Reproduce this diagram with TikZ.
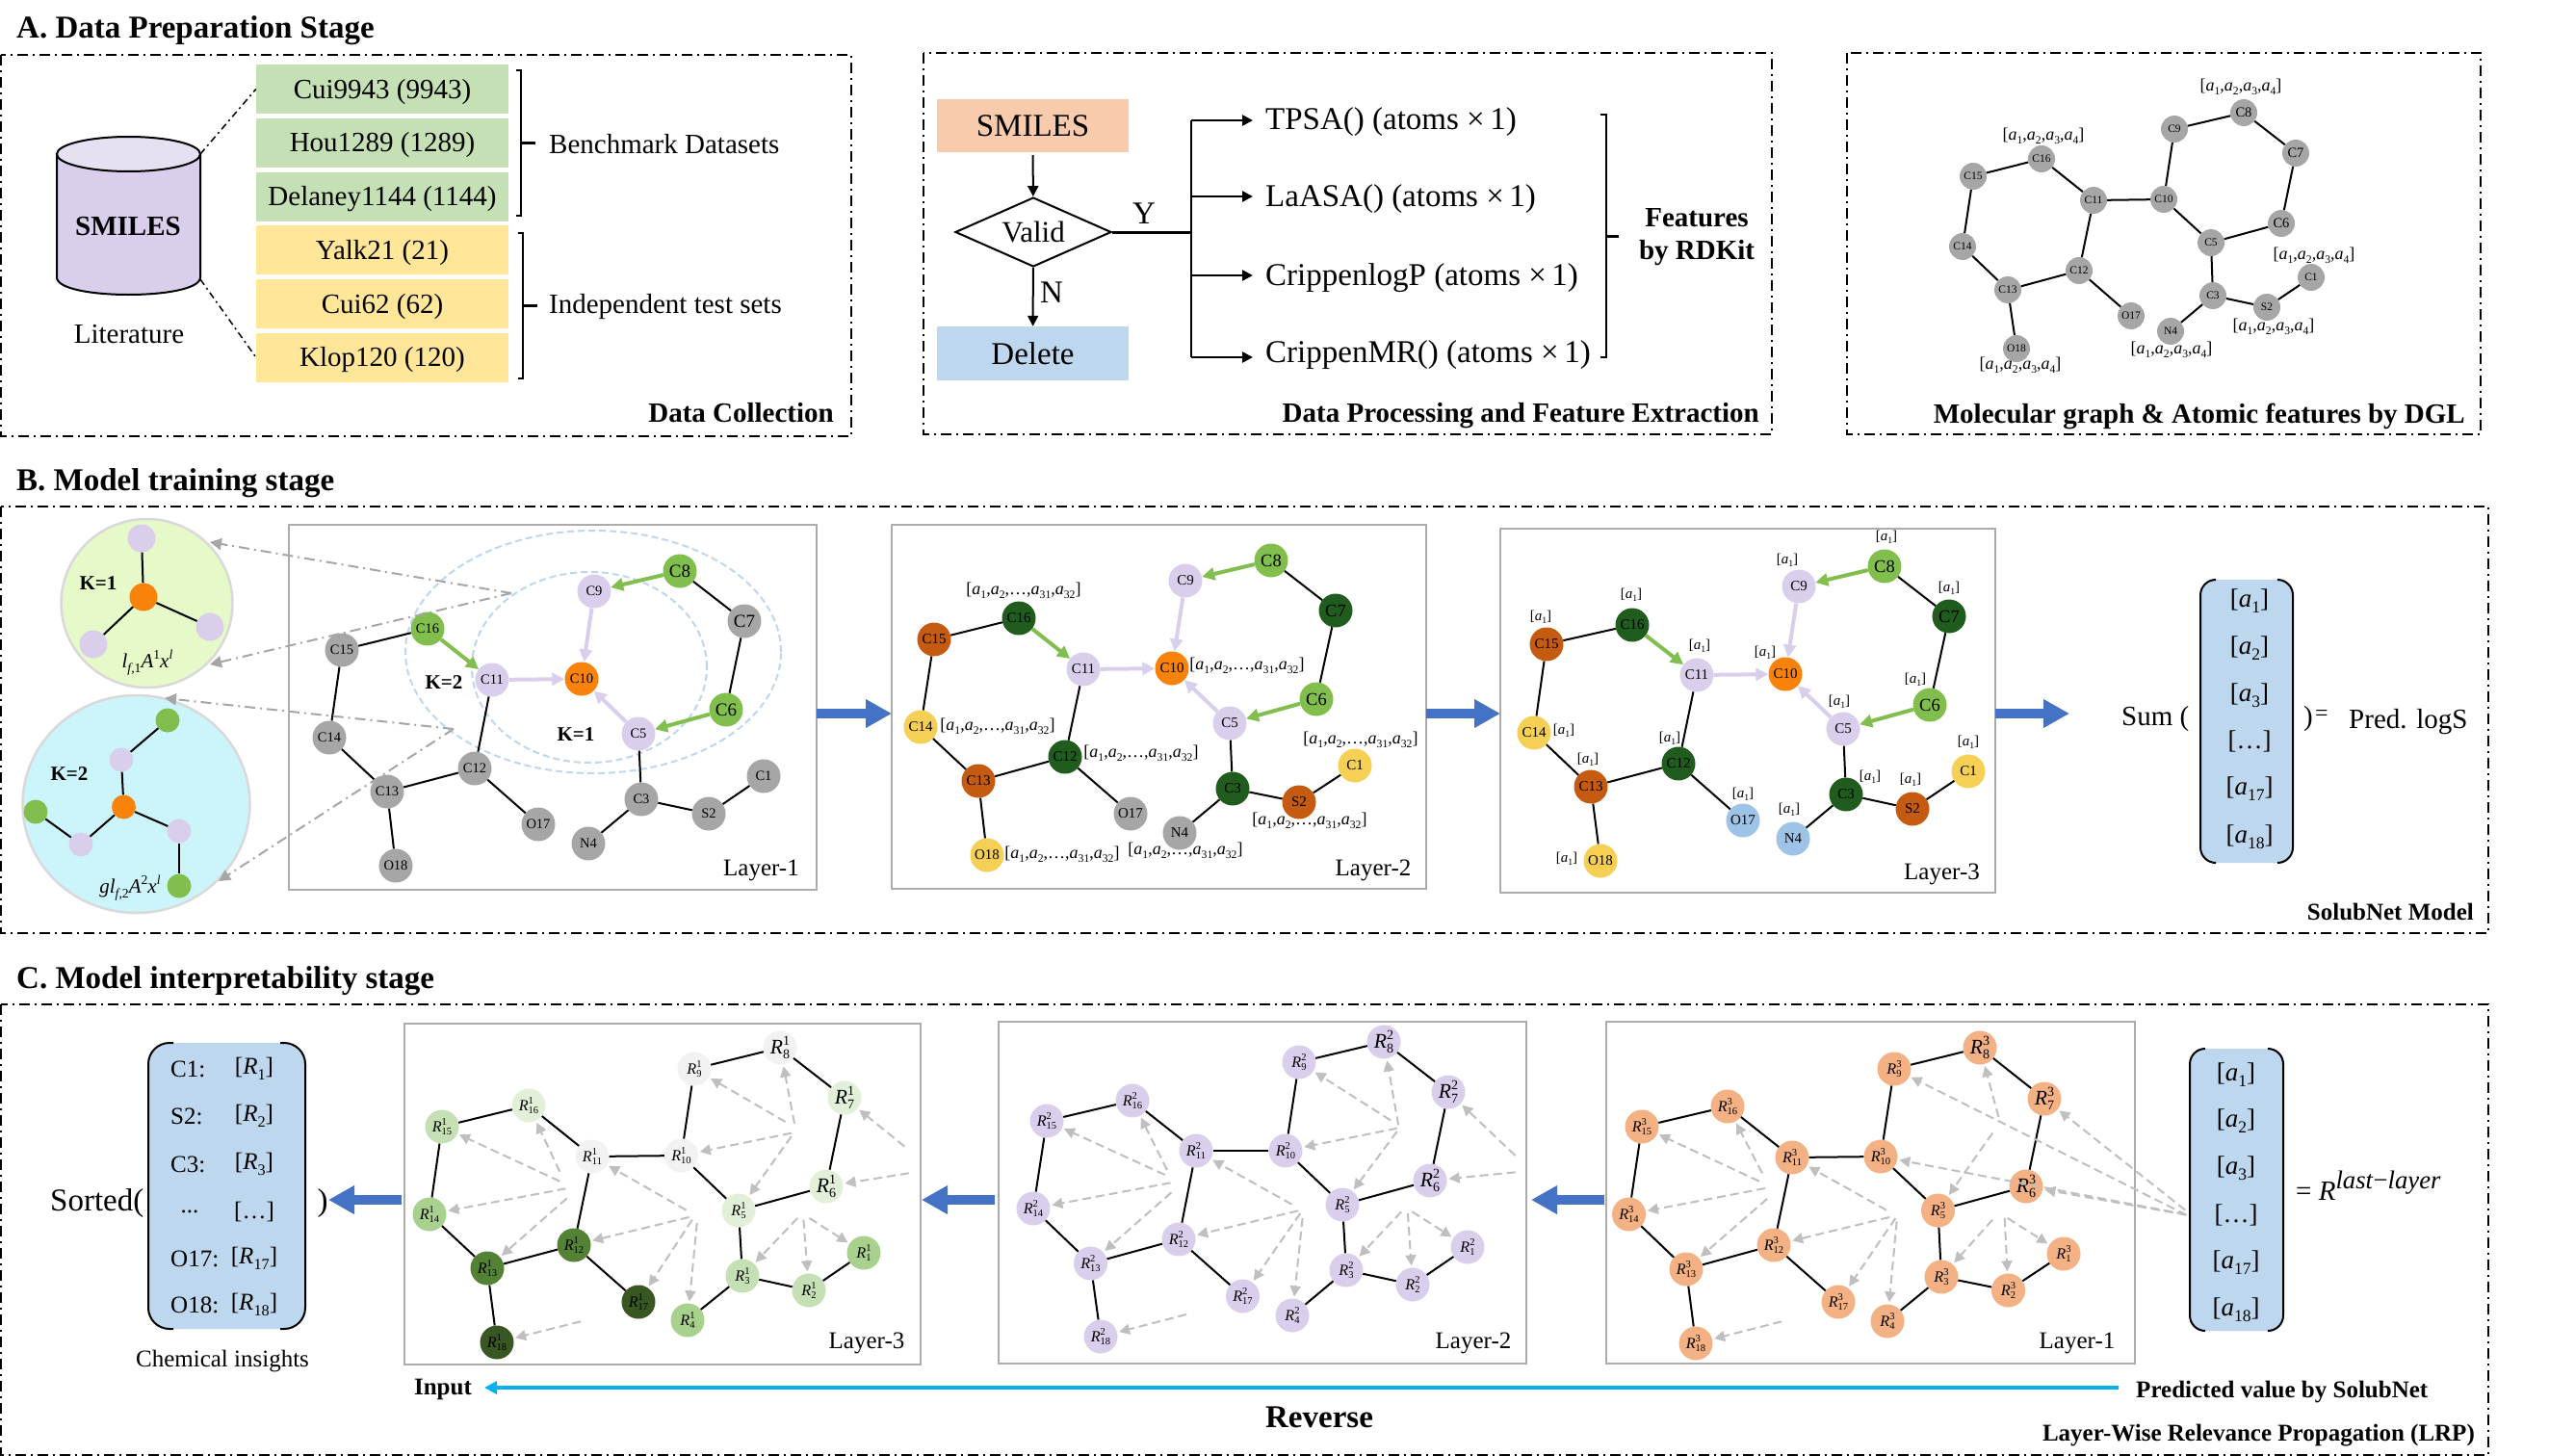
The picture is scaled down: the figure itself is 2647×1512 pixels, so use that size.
\documentclass[tikz,border=0pt]{standalone}
\usepackage{fontspec}
\setmainfont{Liberation Serif}
\usetikzlibrary{arrows.meta,shapes.geometric}
\newcommand{\fsz}[1]{\fontsize{#1}{#1}\selectfont}
\newcommand{\lowsub}[1]{\raisebox{-.22em}{\scalebox{.65}{#1}}}
\newcommand{\hisup}[1]{\raisebox{.42em}{\scalebox{.65}{#1}}}
\newcommand{\aS}[1]{\textit{a}\lowsub{#1}}
\newcommand{\RS}[2]{\scalebox{1.08}{\textit{R}\makebox[0pt][l]{\hisup{#1}}\lowsub{#2}}}
\newcommand{\afour}{[\aS{1},\aS{2},\aS{3},\aS{4}]}
\newcommand{\along}{[\aS{1},\aS{2},…,\aS{31},\aS{32}]}
\definecolor{cgray}{HTML}{A6A6A6}
\definecolor{lgreen}{HTML}{82BE4E}
\definecolor{dgreen}{HTML}{1F5C1E}
\definecolor{brown}{HTML}{C55A11}
\definecolor{yell}{HTML}{F6CF55}
\definecolor{lblue}{HTML}{9DC3E6}
\definecolor{purp}{HTML}{D9CFEC}
\definecolor{orng}{HTML}{F8820A}
\definecolor{peach}{HTML}{F4B183}
\definecolor{lpeach}{HTML}{F8CBAD}
\definecolor{mblue}{HTML}{BDD7EE}
\definecolor{arrblue}{HTML}{4472C4}
\definecolor{frame}{HTML}{AFABAB}
\definecolor{dashgray}{HTML}{BFBFBF}
\definecolor{gw}{HTML}{F2F2F2}
\definecolor{g1}{HTML}{E2F0D9}
\definecolor{g2}{HTML}{C5E0B4}
\definecolor{g3}{HTML}{A9D18E}
\definecolor{g4}{HTML}{548235}
\definecolor{g5}{HTML}{385723}
\definecolor{paleg}{HTML}{E6F9C8}
\definecolor{palec}{HTML}{CCF4FB}
\definecolor{skyb}{HTML}{00B0F0}
\tikzset{
  sect/.style={line width=2pt,dash pattern=on 11pt off 5pt on 2pt off 5pt},
  panel/.style={draw=frame,line width=2.5pt},
  txt/.style={inner sep=0pt,text=black},
  atom/.style={circle,inner sep=0pt,minimum size=35pt},
  atomsm/.style={circle,inner sep=0pt,minimum size=28pt,fill=cgray},
  bond/.style={line width=2pt,black},
  greenar/.style={line width=4pt,lgreen,-{Triangle[width=13pt,length=13pt]}},
  purpar/.style={line width=4pt,purp,-{Triangle[width=13pt,length=13pt]}},
  lrpar/.style={line width=2pt,dashgray,dash pattern=on 9pt off 5pt,shorten >=2pt,-{Triangle[width=11pt,length=11pt]}},
  zoomar/.style={line width=2pt,cgray,dash pattern=on 11pt off 5pt on 2pt off 5pt,-{Triangle[width=12pt,length=12pt]}},
  bigar/.style={line width=9.5pt,arrblue,-{Triangle[width=28pt,length=27pt]}},
  arr/.style={line width=2pt,black,-{Triangle[width=11pt,length=11pt]}},
  dotline/.style={line width=1.5pt,black,dash pattern=on 7pt off 4pt on 2pt off 4pt},
  kring/.style={mblue,line width=2pt,dash pattern=on 7pt off 4pt},
  dbox/.style={inner sep=0pt,minimum width=262pt,minimum height=51pt,font=\fsz{29},text=black},
  hop/.style={circle,inner sep=0pt,minimum size=29pt},
  hopb/.style={circle,inner sep=0pt,minimum size=25pt},
}
\newcommand{\bonds}[1]{\foreach \a/\b in {1/2,2/3,3/4,3/5,6/7,7/8,11/12,12/13,12/17,13/14,13/18,14/15,15/16}{\draw[bond] (#1\a) -- (#1\b);}}
\newcommand{\bondsx}[1]{\bonds{#1}\foreach \a/\b in {8/9,5/6,11/16,9/10,10/11,5/10}{\draw[bond] (#1\a) -- (#1\b);}}
\newcommand{\flow}[1]{\foreach \a/\b in {8/9,6/5,16/11}{\draw[greenar] (#1\a) -- (#1\b);}\foreach \a/\b in {9/10,11/10,5/10}{\draw[purpar] (#1\a) -- (#1\b);}}
\begin{document}
\begin{tikzpicture}[x=1pt,y=-1pt]
\useasboundingbox (0,0) rectangle (2647,1512);
\fill[white] (0,0) rectangle (2647,1512);

% ---- headings
\node[txt,anchor=west,font=\fsz{33}\bfseries] (hA) at (17,32) {A. Data Preparation Stage};
\node[txt,anchor=west,font=\fsz{33}\bfseries] (hB) at (17,502) {B. Model training stage};
\node[txt,anchor=west,font=\fsz{33}\bfseries] (hC) at (17,1019) {C. Model interpretability stage};

% ---- section frames
\draw[sect] (1,57) rectangle (884,453);
\draw[sect] (959,55) rectangle (1840,451);
\draw[sect] (1918,55) rectangle (2576,451);
\draw[sect] (1,526) rectangle (2584,969);
\draw[sect] (1,1043) rectangle (2584,1511);

% ---- A1 data collection
\draw[line width=2pt,black,fill=purp] (59,160) -- (59,288) .. controls (59,312) and (208,312) .. (208,288) -- (208,160) -- cycle;
\draw[line width=2pt,black,fill=purp!65!white] (133.5,160) ellipse [x radius=74.5pt,y radius=18pt];
\node[txt,font=\fsz{29}\bfseries] (cyl) at (133,235) {SMILES};
\node[txt,font=\fsz{29}] (lit) at (134,347) {Literature};
\foreach \n/\t/\y/\c in {d1/Cui9943 (9943)/92.5/C5E0B4,d2/Hou1289 (1289)/148/C5E0B4,d3/Delaney1144 (1144)/204/C5E0B4,d4/Yalk21 (21)/259.5/FFE699,d5/Cui62 (62)/315.5/FFE699,d6/Klop120 (120)/371/FFE699}{
  \definecolor{tmpc}{HTML}{\c}
  \node[dbox,fill=tmpc] (\n) at (397,\y) {\raisebox{-9.5pt}[0pt][0pt]{\t}};
}
\coordinate (cy1) at (208,160);
\coordinate (cy2) at (208,290);
\draw[dotline] (cy1) -- (d1.west);
\draw[dotline] (cy2) -- (d6.west);
\draw[line width=2pt] (536,73) -- (541,73) -- (541,224) -- (536,224);
\draw[line width=3pt] (541,148) -- (556,148);
\draw[line width=2pt] (538,242) -- (543,242) -- (543,393) -- (538,393);
\draw[line width=3pt] (543,317) -- (558,317);
\node[txt,anchor=west,font=\fsz{29}] (bd) at (570,150) {Benchmark Datasets};
\node[txt,anchor=west,font=\fsz{29}] (it) at (570,319) {Independent test sets};
\node[txt,anchor=east,font=\fsz{29}\bfseries] (dc) at (866,429) {Data Collection};

% ---- A2 processing
\node[inner sep=0pt,fill=lpeach,minimum width=199pt,minimum height=55pt,font=\fsz{33},text=black] (sm) at (1072.5,130.5) {\raisebox{-11pt}[0pt][0pt]{SMILES}};
\node[inner sep=0pt,fill=mblue,minimum width=199pt,minimum height=56pt,font=\fsz{33},text=black] (del) at (1072.5,367) {Delete};
\node[diamond,draw=black,line width=2pt,aspect=2.25,inner sep=0pt,minimum width=162pt,minimum height=72pt,font=\fsz{31},text=black] (valid) at (1073,241) {Valid};
\draw[arr,shorten <=3pt] (sm) -- (valid);
\draw[arr] (valid) -- (del);
\node[txt,font=\fsz{33}] (y) at (1188,222) {Y};
\node[txt,font=\fsz{33}] (n) at (1092,304) {N};
\node[txt,anchor=west,font=\fsz{33}] (f1) at (1314,127) {TPSA() (atoms ×\,1)};
\node[txt,anchor=west,font=\fsz{33}] (f2) at (1314,207) {LaASA() (atoms ×\,1)};
\node[txt,anchor=west,font=\fsz{33}] (f3) at (1314,289) {CrippenlogP (atoms ×\,1)};
\node[txt,anchor=west,font=\fsz{33}] (f4) at (1314,369) {CrippenMR() (atoms ×\,1)};
\coordinate (tr) at (1237,241);
\coordinate (t1) at (1237,125);
\coordinate (t2) at (1237,204);
\coordinate (t3) at (1237,286);
\coordinate (t4) at (1237,371);
\draw[line width=3pt] (valid) -- (tr);
\draw[line width=2pt] (t1) -- (t4);
\foreach \i in {1,2,3,4}{\draw[arr,line width=2.5pt,shorten >=13pt] (t\i) -- (t\i -| f\i.west);}
\draw[line width=2pt] (1662,119) -- (1668,119) -- (1668,371) -- (1662,371);
\draw[line width=3pt] (1668,245) -- (1681,245);
\node[txt,font=\fsz{29}\bfseries] (fa) at (1762,226) {Features};
\node[txt,font=\fsz{29}\bfseries] (fb) at (1762,263) {by RDKit};
\node[txt,anchor=east,font=\fsz{29}\bfseries] (dp) at (1827,432) {Data Processing and Feature Extraction};

% ---- A3 molecular graph
\foreach \id/\lab/\x/\y/\f in {8/C8/2330/117/14.5,9/C9/2258/134/11.5,7/C7/2384/159/14.5,10/C10/2247/207/11.5,11/C11/2174/208/11.5,16/C16/2120/165/11.5,15/C15/2049/183/11.5,14/C14/2038/256/11.5,13/C13/2085/301/11.5,12/C12/2159/281/11.5,17/O17/2213/328/11.5,18/O18/2094/362/11.5,5/C5/2296/252/11.5,6/C6/2369/232/14.5,3/C3/2298/307/11.5,2/S2/2354/319/11.5,1/C1/2400/288/11.5,4/N4/2254/344/11.5}{
  \node[atomsm,font=\fsz{\f},text=black] (a\id) at (\x,\y) {\lab};
}
\bondsx{a}
\foreach \x/\y/\n in {2327/90/1,2122/141/2,2403/265/3,2361/339/4,2255/363/5,2098/379/6}{
  \node[txt,font=\fsz{18}] (al\n) at (\x,\y) {\afour};
}
\node[txt,anchor=east,font=\fsz{29}\bfseries] (mg) at (2560,432) {Molecular graph \& Atomic features by DGL};

% ---- B layer-1
\draw[panel] (300,545) rectangle (848,924);
\draw[kring] (612,693) ellipse [x radius=122pt,y radius=99pt];
\draw[kring] (616,677) ellipse [x radius=195pt,y radius=126pt];
\foreach \id/\lab/\x/\y/\c/\f in {8/C8/706/593/lgreen/19,9/C9/617/614/purp/14.5,7/C7/773/645/cgray/19,16/C16/444/653/lgreen/14.5,15/C15/355/675/cgray/14.5,11/C11/511/706/purp/14.5,10/C10/604/705/orng/14.5,6/C6/754/737/lgreen/19,5/C5/663/762/purp/14.5,14/C14/342/766/cgray/14.5,12/C12/493/798/cgray/14.5,13/C13/402/822/cgray/14.5,1/C1/793/806/cgray/14.5,3/C3/666/830/cgray/14.5,2/S2/736/845/cgray/14.5,17/O17/559/856/cgray/14.5,4/N4/611/876/cgray/14.5,18/O18/411/899/cgray/14.5}{
  \node[atom,fill=\c,font=\fsz{\f},text=black] (b\id) at (\x,\y) {\lab};
}
\bonds{b}
\flow{b}
\node[txt,font=\fsz{21}\bfseries] (k2t) at (461,709) {K=2};
\node[txt,font=\fsz{21}\bfseries] (k1t) at (598,763) {K=1};
\node[txt,anchor=east,font=\fsz{25}] (l1) at (830,904) {Layer-1};

% ---- B zoom circles
\draw[line width=2.5pt,draw=black!15,fill=paleg] (152.5,626.5) ellipse [x radius=89pt,y radius=87.5pt];
\node[hop,fill=purp] (p1) at (147,559) {};
\node[hop,fill=orng] (p0) at (149,620) {};
\node[hop,fill=purp] (p2) at (218,651) {};
\node[hop,fill=purp] (p3) at (97,669) {};
\foreach \i in {1,2,3}{\draw[bond] (p0) -- (p\i);}
\node[txt,font=\fsz{21}\bfseries] (k1c) at (102,606) {K=1};
\node[txt,font=\fsz{21}] (f1c) at (153,688) {\textit{l}\lowsub{\textit{f},1}\textit{A}\hisup{1}\textit{x}\hisup{\textit{l}}};
\draw[line width=2.5pt,draw=black!15,fill=palec] (141.5,835) ellipse [x radius=118pt,y radius=113pt];
\node[hopb,fill=lgreen] (q1) at (174,748) {};
\node[hopb,fill=purp] (q2) at (126,789) {};
\node[hopb,fill=orng] (q0) at (128.5,838) {};
\node[hopb,fill=purp] (q3) at (186,863) {};
\node[hopb,fill=lgreen] (q4) at (186,920) {};
\node[hopb,fill=purp] (q5) at (84,877) {};
\node[hopb,fill=lgreen] (q6) at (37,843) {};
\foreach \a/\b in {1/2,2/0,0/3,3/4,0/5,5/6}{\draw[bond] (q\a) -- (q\b);}
\node[txt,font=\fsz{21}\bfseries] (k2c) at (72,804) {K=2};
\node[txt,font=\fsz{21}] (f2c) at (135,922) {\textit{gl}\lowsub{\textit{f},2}\textit{A}\hisup{2}\textit{x}\hisup{\textit{l}}};
\coordinate (z1s) at (531,616);
\coordinate (z1a) at (218,563);
\coordinate (z1b) at (218,690);
\coordinate (z2s) at (471,757);
\coordinate (z2a) at (171,725);
\coordinate (z2b) at (227,915);
\draw[zoomar] (z1s) -- (z1a);
\draw[zoomar] (z1s) -- (z1b);
\draw[zoomar] (z2s) -- (z2a);
\draw[zoomar] (z2s) -- (z2b);

% ---- B layer-2
\draw[panel] (926,545) rectangle (1481,923);
\foreach \id/\lab/\x/\y/\c/\f in {8/C8/1320/582/lgreen/18.5,9/C9/1231/603/purp/15,7/C7/1387/634/dgreen/18.5,16/C16/1058/642/dgreen/15,15/C15/970/664/brown/15,11/C11/1125/695/purp/15,10/C10/1217/694/orng/15,6/C6/1367/726/lgreen/18.5,5/C5/1277/751/purp/15,14/C14/956/755/yell/15,12/C12/1106/786/dgreen/15,13/C13/1016/811/brown/15,1/C1/1407/795/yell/15,3/C3/1280/819/dgreen/15,2/S2/1349/833/brown/15,17/O17/1174/845/cgray/15,4/N4/1225/865/cgray/15,18/O18/1025/888/yell/15}{
  \node[atom,fill=\c,font=\fsz{\f},text=black] (c\id) at (\x,\y) {\lab};
}
\bonds{c}
\flow{c}
\foreach \x/\y/\n in {1063/613/1,1295/691/2,1036/754/3,1185/782/4,1413/768/5,1360/852/6,1231/883/7,1103/887/8}{
  \node[txt,font=\fsz{18}] (cl\n) at (\x,\y) {\along};
}
\node[txt,font=\fsz{25}] (l2) at (1426,904) {Layer-2};

% ---- B layer-3
\draw[panel] (1558,549) rectangle (2072,927);
\foreach \id/\lab/\x/\y/\c/\f in {8/C8/1957/588/lgreen/18.5,9/C9/1868/609/purp/15,7/C7/2024/640/dgreen/18.5,16/C16/1695/649/dgreen/15,15/C15/1606/669/brown/15,11/C11/1762/701/purp/15,10/C10/1854/700/orng/15,6/C6/2004/732/lgreen/18.5,5/C5/1914/757/purp/15,14/C14/1593/761/yell/15,12/C12/1743/793/dgreen/15,13/C13/1652/817/brown/15,1/C1/2044/801/yell/15,3/C3/1917/825/dgreen/15,2/S2/1986/840/brown/15,17/O17/1810/852/lblue/15,4/N4/1862/871/lblue/15,18/O18/1662/894/yell/15}{
  \node[atom,fill=\c,font=\fsz{\f},text=black] (d\id) at (\x,\y) {\lab};
}
\bonds{d}
\flow{d}
\foreach \x/\y/\n in {1959/558/1,1856/582/2,2024/611/3,1694/618/4,1600/641/5,1765/671/6,1833/678/7,1989/706/8,1910/729/9,1624/759/10,1734/767/11,1649/789/12,1942/807/13,1984/810/14,2044/771/15,1810/825/16,1858/841/17,1627/892/18}{
  \node[txt,font=\fsz{15}] (dl\n) at (\x,\y) {[\aS{1}]};
}
\node[txt,anchor=east,font=\fsz{25}] (l3) at (2056,908) {Layer-3};

% ---- B big arrows
\foreach \a/\b/\n in {848/926/1,1481/1558/2,2072/2149/3}{
  \coordinate (ba\n) at (\a,741);
  \coordinate (bb\n) at (\b,741);
  \draw[bigar] (ba\n) -- (bb\n);
}

% ---- B sum matrix
\fill[mblue,rounded corners=16pt] (2285,602) rectangle (2381,896);
\draw[line width=2pt,rounded corners=16pt] (2301,602) -- (2285,602) -- (2285,896) -- (2301,896);
\draw[line width=2pt,rounded corners=16pt] (2365,602) -- (2381,602) -- (2381,896) -- (2365,896);
\foreach \t/\y/\n in {{[\aS{1}]}/624/1,{[\aS{2}]}/673/2,{[\aS{3}]}/722/3,{[…]}/770/4,{[\aS{17}]}/819/5,{[\aS{18}]}/869/6}{
  \node[txt,font=\fsz{27}] (ma\n) at (2336,\y) {\t};
}
\node[txt,anchor=west,font=\fsz{29}] (sum) at (2203,747) {Sum (};
\node[txt,anchor=west,font=\fsz{29}] (eq) at (2392,747) {)};
\node[txt,anchor=west,font=\fsz{24}] (eq2) at (2404,743) {=};
\node[txt,anchor=west,font=\fsz{29}] (pl) at (2439,750) {Pred. logS};
\node[txt,anchor=east,font=\fsz{25}\bfseries] (sn) at (2569,947) {SolubNet Model};

% ---- C layer-3
\draw[panel] (420,1063) rectangle (956,1417);
\foreach \id/\x/\y/\c/\f in {8/810/1088/gw/20,9/721/1110/gw/15,7/877/1140/g1/20,16/549/1148/g1/15,15/459/1170/g2/15,11/615/1201/gw/15,10/707.5/1200/gw/15,6/858/1232/g1/20,5/767/1257/g1/15,14/446/1261/g3/15,12/596/1293/g4/15,13/506/1317/g4/15,1/897/1301/g3/15,3/771/1325/g2/15,2/840/1340/g2/15,17/663/1352/g5/15,4/714/1371/g3/15,18/516/1394/g5/15}{
  \node[atom,fill=\c,font=\fsz{\f},text=black] (e\id) at (\x,\y) {\RS{1}{\id}};
}
\bondsx{e}
\begin{scope}[shift={(0,1000)},x=0.625pt,y=-0.3333pt]
\foreach \n/\sx/\sy in {8/1320/500,9/1305/495,10/1315/530,5/1315/540,7/1503/572,6/1510/655,16/930/650,15/930/680,14/940/703,13/942/733,11/1140/770,12/1145/792,17/1150/800,4/1158/810,3/1325/795,2/1335/800,1/1345/795,18/965/1117}{
  \coordinate (es\n) at (\sx,\sy);
  \draw[lrpar] (es\n) -- (e\n);
}
\end{scope}
\node[txt,font=\fsz{25}] (l3c) at (900,1395) {Layer-3};

% ---- C layer-2
\draw[panel] (1037,1061) rectangle (1585,1416);
\foreach \id/\x/\y/\f in {8/1437/1082/20,9/1349/1103/15,7/1504/1134/20,16/1176/1143/15,15/1087/1164/15,11/1242/1195/15,10/1335/1195/15,6/1485/1226/20,5/1394/1251/15,14/1073/1255/15,12/1224/1287/15,13/1132.5/1312/15,1/1524/1295/15,3/1398/1319/15,2/1467/1334/15,17/1290.5/1346/15,4/1342/1366/15,18/1143/1388/15}{
  \node[atom,fill=purp,font=\fsz{\f},text=black] (f\id) at (\x,\y) {\RS{2}{\id}};
}
\bondsx{f}
\begin{scope}[shift={(1020,1060)},x=0.4464pt,y=-0.3333pt]
\foreach \n/\sx/\sy in {8/968/325,9/950/310,10/965/335,5/965/345,7/1240/420,6/1240/472,16/430/465,15/425/480,14/438/505,13/440/535,11/720/572,12/735/592,17/740/600,4/745/615,3/975/595,2/990/600,1/1000/595,18/475/915}{
  \coordinate (fs\n) at (\sx,\sy);
  \draw[lrpar] (fs\n) -- (f\n);
}
\end{scope}
\node[txt,font=\fsz{25}] (l2c) at (1530,1395) {Layer-2};

% ---- C layer-1
\draw[panel] (1668,1061) rectangle (2217,1416);
\foreach \id/\x/\y/\f in {8/2056/1088/20,9/1967/1110/15,7/2123/1141/20,16/1794/1149/15,15/1705/1170/15,11/1861/1202/15,10/1953/1201/15,6/2104/1232/20,5/2012.5/1257/15,14/1691.5/1261/15,12/1842/1293/15,13/1751/1318/15,1/2143/1302/15,3/2016/1326/15,2/2085.5/1340/15,17/1909/1352/15,4/1960/1372/15,18/1761/1395/15}{
  \node[atom,fill=peach,font=\fsz{\f},text=black] (g\id) at (\x,\y) {\RS{3}{\id}};
}
\bondsx{g}
\begin{scope}[shift={(1660,1060)},x=0.6294pt,y=-0.3333pt]
\foreach \n/\sx/\sy in {8/660/300,9/970/605,10/968/603,5/650/350,7/968/590,6/970/605,16/270/475,15/265/500,14/275/522,13/278/555,11/475/590,12/480/612,17/490/615,4/492/625,3/650/620,2/670/615,1/675/615,18/302/937}{
  \coordinate (gs\n) at (\sx,\sy);
  \draw[lrpar] (gs\n) -- (g\n);
}
\end{scope}
\node[txt,font=\fsz{25}] (l1c) at (2157,1395) {Layer-1};

% ---- C big arrows
\foreach \a/\b/\n in {1666/1590/1,1033/957/2,417/341/3}{
  \coordinate (ca\n) at (\a,1246);
  \coordinate (cb\n) at (\b,1246);
  \draw[bigar] (ca\n) -- (cb\n);
}

% ---- C last-layer matrix
\fill[mblue,rounded corners=16pt] (2274,1089) rectangle (2371,1382);
\draw[line width=2pt,rounded corners=16pt] (2290,1089) -- (2274,1089) -- (2274,1382) -- (2290,1382);
\draw[line width=2pt,rounded corners=16pt] (2355,1089) -- (2371,1089) -- (2371,1382) -- (2355,1382);
\foreach \t/\y/\n in {{[\aS{1}]}/1116/1,{[\aS{2}]}/1164/2,{[\aS{3}]}/1213/3,{[…]}/1262/4,{[\aS{17}]}/1311/5,{[\aS{18}]}/1360/6}{
  \node[txt,font=\fsz{27}] (mb\n) at (2322,\y) {\t};
}
\node[txt,anchor=west,font=\fsz{29}] (rl) at (2384,1231) {= \textit{R}\raisebox{.42em}{\scalebox{.92}{\textit{last}−\textit{layer}}}};

% ---- C chemical insights
\fill[mblue,rounded corners=22pt] (154,1083) rectangle (317,1380);
\draw[line width=2pt,rounded corners=22pt] (180,1083) -- (154,1083) -- (154,1380) -- (180,1380);
\draw[line width=2pt,rounded corners=22pt] (291,1083) -- (317,1083) -- (317,1380) -- (291,1380);
\foreach \l/\t/\y/\n in {C1:/{[\textit{R}\lowsub{1}]}/1110/1,S2:/{[\textit{R}\lowsub{2}]}/1159/2,C3:/{[\textit{R}\lowsub{3}]}/1209/3,O17:/{[\textit{R}\lowsub{17}]}/1307/5,O18:/{[\textit{R}\lowsub{18}]}/1355/6}{
  \node[txt,anchor=west,font=\fsz{25}] (cha\n) at (177,\y) {\l};
  \node[txt,font=\fsz{25}] (chb\n) at (264,\y) {\t};
}
\node[txt,font=\fsz{25}] (cha4) at (197,1258) {...};
\node[txt,font=\fsz{25}] (chb4) at (264,1258) {[…]};
\node[txt,anchor=west,font=\fsz{33}] (so) at (52,1250) {Sorted(};
\node[txt,font=\fsz{33}] (sc) at (335,1250) {)};
\node[txt,font=\fsz{25}] (ci) at (231,1414) {Chemical insights};

% ---- C bottom line
\node[txt,font=\fsz{25}\bfseries] (inp) at (460,1443) {Input};
\node[txt,anchor=west,font=\fsz{25}\bfseries] (pv) at (2218,1446) {Predicted value by SolubNet};
\coordinate (ln1) at (2200,1441);
\coordinate (ln2) at (503,1441);
\draw[line width=4pt,skyb,-{Triangle[width=13pt,length=13pt]}] (ln1) -- (ln2);
\node[txt,font=\fsz{33}\bfseries] (rv) at (1370,1472) {Reverse};
\node[txt,anchor=east,font=\fsz{25}\bfseries] (lrp) at (2570,1491) {Layer-Wise Relevance Propagation (LRP)};
\end{tikzpicture}
\end{document}
